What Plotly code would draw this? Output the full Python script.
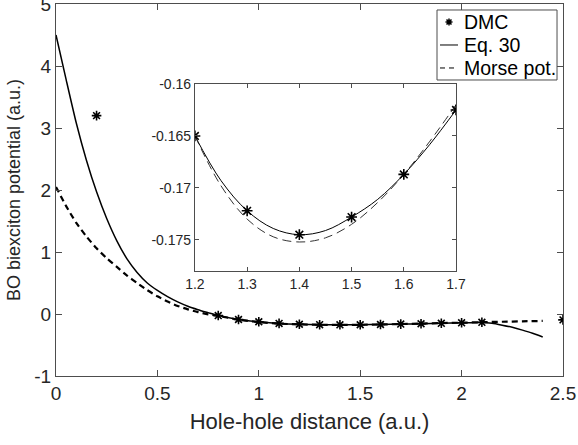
import plotly.graph_objects as go

# ---- data ----
dmc_x = [0.2, 0.8, 0.9, 1.0, 1.1, 1.2, 1.3, 1.4, 1.5, 1.6, 1.7, 1.8, 1.9, 2.0, 2.1, 2.5]
dmc_y = [3.2, -0.025, -0.088, -0.125, -0.152, -0.165, -0.1722, -0.1745, -0.1728, -0.1687,
         -0.1625, -0.157, -0.150, -0.142, -0.134, -0.095]

eq30_x = [0, 0.05, 0.1, 0.15, 0.2, 0.25, 0.3, 0.35, 0.4, 0.45, 0.5, 0.55, 0.6, 0.65, 0.7,
          0.75, 0.8, 0.9, 1.0, 1.1, 1.2, 1.3, 1.4, 1.5, 1.6, 1.7, 1.8, 1.9, 2.0, 2.1, 2.15,
          2.2, 2.25, 2.3, 2.35, 2.4]
eq30_y = [4.5, 3.78, 3.08, 2.48, 1.97, 1.54, 1.18, 0.89, 0.67, 0.50, 0.38, 0.28, 0.195, 0.125,
          0.07, 0.022, -0.025, -0.088, -0.125, -0.152, -0.165, -0.172, -0.1745, -0.1728,
          -0.1687, -0.1625, -0.157, -0.150, -0.142, -0.136, -0.15, -0.18, -0.215, -0.26,
          -0.31, -0.37]

morse_x = [0, 0.05, 0.1, 0.15, 0.2, 0.25, 0.3, 0.35, 0.4, 0.45, 0.5, 0.55, 0.6, 0.65, 0.7,
           0.75, 0.8, 0.9, 1.0, 1.1, 1.2, 1.3, 1.4, 1.5, 1.6, 1.7, 1.8, 1.9, 2.0, 2.1, 2.2,
           2.3, 2.4]
morse_y = [2.05, 1.74, 1.47, 1.25, 1.06, 0.9, 0.76, 0.62, 0.50, 0.385, 0.285, 0.2, 0.13, 0.075,
           0.03, -0.005, -0.03, -0.09, -0.13, -0.155, -0.168, -0.173, -0.175, -0.1735,
           -0.169, -0.162, -0.155, -0.147, -0.14, -0.132, -0.125, -0.118, -0.112]

# inset (zoomed) curves
ins_x = [1.2, 1.25, 1.3, 1.35, 1.4, 1.45, 1.5, 1.55, 1.6, 1.65, 1.7]
ins_eq30 = [-0.165, -0.1693, -0.1722, -0.1739, -0.1745, -0.1741, -0.1728, -0.1711, -0.1687,
            -0.1658, -0.1625]
ins_morse = [-0.165, -0.1698, -0.1730, -0.1747, -0.1752, -0.1748, -0.1735, -0.1714, -0.1687,
             -0.1655, -0.1620]
ins_dmc_x = [1.2, 1.3, 1.4, 1.5, 1.6, 1.7]
ins_dmc_y = [-0.165, -0.1722, -0.1745, -0.1728, -0.1687, -0.1625]

legend_labels = ["DMC", "Eq. 30", "Morse pot."]

FONT = "Liberation Sans, Arial, Helvetica, sans-serif"
AX = "#262626"
GRAY = "#4d4d4d"

fig = go.Figure()
fig.add_trace(go.Scatter(x=dmc_x, y=dmc_y, mode="markers", name=legend_labels[0],
                         marker=dict(symbol="asterisk-open", size=8, color="black",
                                     line=dict(width=1.6, color="black"))))
fig.add_trace(go.Scatter(x=eq30_x, y=eq30_y, mode="lines", name=legend_labels[1],
                         line=dict(color="black", width=1.5, shape="spline", smoothing=0.6)))
fig.add_trace(go.Scatter(x=morse_x, y=morse_y, mode="lines", name=legend_labels[2],
                         line=dict(color="black", width=2.2, dash="6px,4px", shape="spline",
                                   smoothing=0.6)))

# inset traces
fig.add_trace(go.Scatter(x=ins_x, y=ins_eq30, mode="lines",
                         xaxis="x2", yaxis="y2",
                         line=dict(color="black", width=1, shape="spline")))
fig.add_trace(go.Scatter(x=ins_x, y=ins_morse, mode="lines",
                         xaxis="x2", yaxis="y2",
                         line=dict(color="#333333", width=1, dash="9px,5px", shape="spline")))
fig.add_trace(go.Scatter(x=ins_dmc_x, y=ins_dmc_y, mode="markers",
                         xaxis="x2", yaxis="y2",
                         marker=dict(symbol="asterisk-open", size=9, color="black",
                                     line=dict(width=1.6, color="black"))))

main_ax = dict(showline=True, linecolor=GRAY, linewidth=1, mirror="ticks", ticks="inside",
               ticklen=6, tickcolor=GRAY, showgrid=False, zeroline=False, automargin=False,
               ticklabeloverflow="allow",
               tickfont=dict(family=FONT, size=19, color=AX))
ins_ax = dict(showline=True, linecolor=GRAY, linewidth=1, mirror="ticks", ticks="inside",
              ticklen=4, tickcolor=GRAY, showgrid=False, zeroline=False, automargin=False,
              ticklabeloverflow="allow",
              tickfont=dict(family=FONT, size=14, color=AX))

# ---- custom legend box (MATLAB-style compact legend), paper coordinates ----
L0, L1, T0, T1 = 0.7515, 0.9882, 0.7957, 0.9839
rows = [0.9516, 0.8898, 0.8280]
kx0, kx1, tx = 0.7574, 0.7929, 0.8000
shapes = [
    dict(type="rect", xref="paper", yref="paper", x0=L0, x1=L1, y0=T0, y1=T1,
         line=dict(color=GRAY, width=1), fillcolor="white", layer="above"),
    dict(type="path", xref="paper", yref="paper", xsizemode="pixel", ysizemode="pixel",
         xanchor=(kx0 + kx1) / 2, yanchor=rows[0],
         path="M-3.5,0H3.5M0,-3.5V3.5M-2.5,-2.5L2.5,2.5M-2.5,2.5L2.5,-2.5",
         line=dict(color="black", width=1.5), layer="above"),
    dict(type="line", xref="paper", yref="paper", x0=kx0, x1=kx1, y0=rows[1], y1=rows[1],
         line=dict(color="black", width=1), layer="above"),
    dict(type="line", xref="paper", yref="paper", x0=kx0, x1=kx1, y0=rows[2], y1=rows[2],
         line=dict(color="black", width=1, dash="5px,4px"), layer="above"),
]
annotations = [
    dict(text=lab, xref="paper", yref="paper", x=tx, y=yy, xanchor="left", yanchor="middle",
         showarrow=False, font=dict(family=FONT, size=19.5, color="black"))
    for lab, yy in zip(legend_labels, rows)
]

fig.update_layout(
    width=578, height=445,
    margin=dict(l=56, r=15, t=4, b=69, autoexpand=False),
    paper_bgcolor="white", plot_bgcolor="white",
    font=dict(family=FONT, color=AX),
    showlegend=False,
    shapes=shapes, annotations=annotations,
    xaxis=dict(main_ax, range=[0, 2.5], tickvals=[0, 0.5, 1, 1.5, 2, 2.5],
               ticktext=["0", "0.5", "1", "1.5", "2", "2.5"],
               title=dict(text="Hole-hole distance (a.u.)", font=dict(size=22, family=FONT, color=AX),
                          standoff=10)),
    yaxis=dict(main_ax, range=[-1, 5], tickvals=[-1, 0, 1, 2, 3, 4, 5],
               ticktext=["-1", "0", "1", "2", "3", "4", "5"],
               title=dict(text="BO biexciton potential (a.u.)", font=dict(size=18, family=FONT, color=AX),
                          standoff=8)),
    xaxis2=dict(ins_ax, domain=[0.274, 0.789], range=[1.2, 1.7], anchor="y2",
                tickvals=[1.2, 1.3, 1.4, 1.5, 1.6, 1.7],
                ticktext=["1.2", "1.3", "1.4", "1.5", "1.6", "1.7"]),
    yaxis2=dict(ins_ax, domain=[0.282, 0.785], range=[-0.178, -0.16], anchor="x2",
                tickvals=[-0.175, -0.17, -0.165, -0.16],
                ticktext=["-0.175", "-0.17", "-0.165", "-0.16"]),
)

fig.write_html("out.html", config={"displayModeBar": False},
               post_script="document.body.style.margin='0';")
